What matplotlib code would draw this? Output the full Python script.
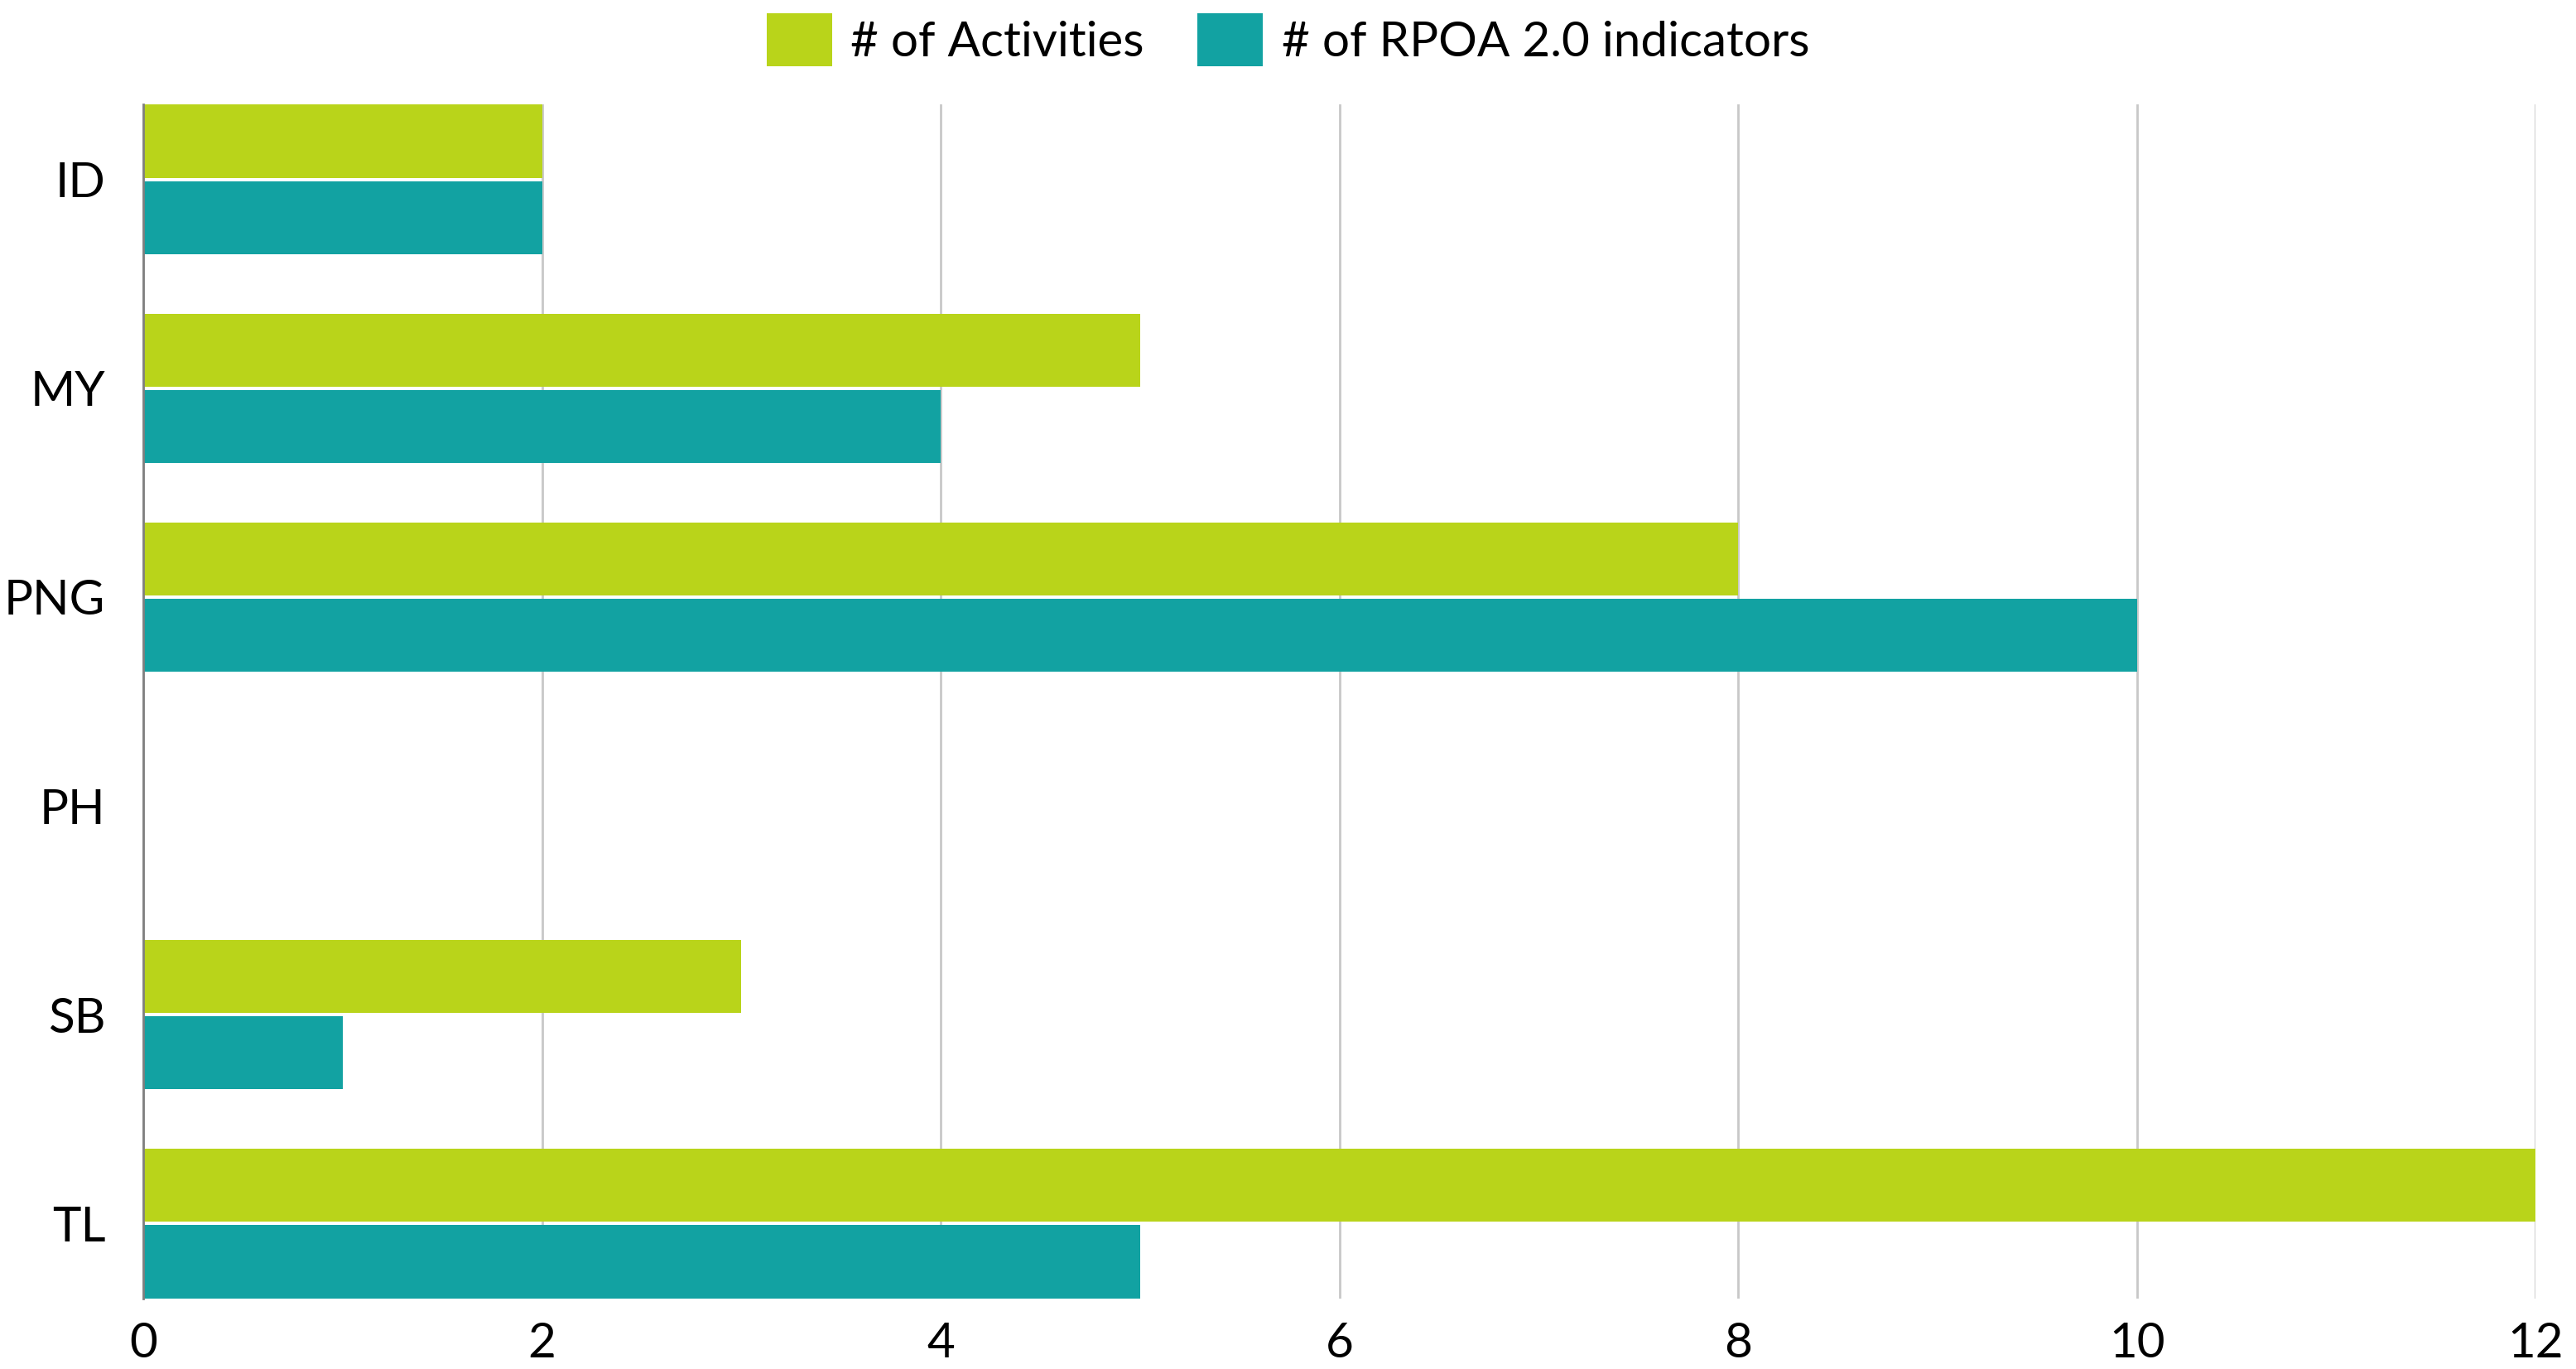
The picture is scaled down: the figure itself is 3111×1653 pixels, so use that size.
import numpy as np
import matplotlib
matplotlib.use('Agg')
import matplotlib.pyplot as plt

''' data '''
countries = ['ID', 'MY', 'PNG', 'PH', 'SB', 'TL']
n_activities = [2, 5, 8, 0, 3, 12]
n_indicators = [2, 4, 10, 0, 1, 5]
x_ticks = [0, 2, 4, 6, 8, 10, 12]

green = '#B9D41A'
teal = '#12A2A2'

plt.rcParams['font.family'] = ['Lato', 'DejaVu Sans']

fig = plt.figure(figsize=(31.11, 16.53), dpi=100)
ax = fig.add_axes([0.0556, 0.0514, 0.9287, 0.8724])

y = np.arange(len(countries))
h = 0.35
gap = 0.016
ax.barh(y - h/2 - gap/2, n_activities, height=h, color=green, label='# of Activities', zorder=3)
ax.barh(y + h/2 + gap/2, n_indicators, height=h, color=teal, label='# of RPOA 2.0 indicators', zorder=3)

ax.set_ylim(len(countries) - 1 + 0.36, -0.36)
ax.set_xlim(0, 12)
ax.set_xticks(x_ticks)
ax.set_xticklabels([str(v) for v in x_ticks], fontsize=42)
ax.set_yticks(y)
ax.set_yticklabels(countries, fontsize=42)
ax.tick_params(axis='both', length=0)
ax.tick_params(axis='x', pad=20)
ax.tick_params(axis='y', pad=33)

ax.grid(axis='x', color='#C8C8C8', linewidth=2, zorder=0)
for s in ['top', 'right', 'bottom']:
    ax.spines[s].set_visible(False)
ax.spines['left'].set_color('#7F7F7F')
ax.spines['left'].set_linewidth(2)
ax.spines['left'].set_zorder(4)

# legend on top, square colour patches
fig.legend(loc='center', bbox_to_anchor=(0.5, 1 - 48/1653), ncol=2, frameon=False,
           fontsize=42, handlelength=1.36, handleheight=1.3, handletextpad=0.38,
           columnspacing=1.1)

plt.savefig('out.png', dpi=100)
